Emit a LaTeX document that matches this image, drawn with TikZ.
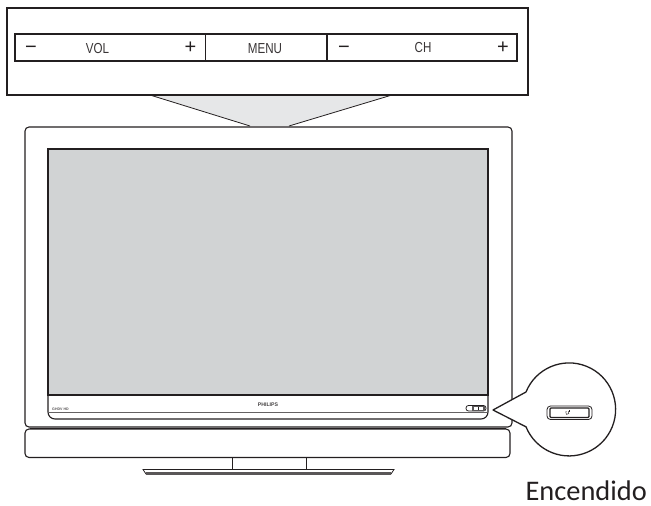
\documentclass[tikz,border=0pt]{standalone}
\usepackage{fontspec}
\setmainfont{Liberation Sans}
\newfontfamily\labelfont{Carlito}
\definecolor{screengray}{HTML}{D1D3D4}
\definecolor{funnelgray}{HTML}{E6E7E8}
\definecolor{inkline}{HTML}{231F20}
\newcommand{\narrowtext}[1]{\scalebox{.8}[1]{#1}}
\tikzset{
  ink/.style={draw=inkline,line width=1.1pt},
  thin ink/.style={draw=inkline,line width=.8pt},
  keytext/.style={inner sep=0pt,text=inkline!90,font=\fontsize{14.5}{15}\selectfont},
  sign/.style={inner sep=0pt,text=inkline,font=\fontsize{20}{22}\selectfont},
  tiny/.style={inner sep=0pt,text=inkline!85,font=\bfseries\fontsize{5.2}{5}\selectfont}
}
\begin{document}
\begin{tikzpicture}[x=1pt,y=-1pt]
\useasboundingbox (0,0) rectangle (651,506);
% funnel
\fill[funnelgray] (150,95) -- (392,95) -- (289,126) -- (250,126) -- cycle;
\draw[thin ink] (150,95) -- (250,126) (392,95) -- (289,126);
% top panel
\draw[ink,fill=white] (7,8) rectangle (528,95);
\draw[ink] (15,34) rectangle (517,61);
\draw[ink] (205.5,34) -- (205.5,61) (327,34) -- (327,61);
\node[sign] (volm) at (31,50) {−};
\node[keytext] (vol) at (97.5,49) {\narrowtext{VOL}};
\node[sign] (volp) at (190.5,48) {+};
\node[keytext] (menu) at (265,49) {\narrowtext{MENU}};
\node[sign] (chm) at (344,49.5) {−};
\node[keytext] (ch) at (423,48) {\narrowtext{CH}};
\node[sign] (chp) at (503,47.5) {+};
% TV body
\draw[ink,rounded corners=4pt] (25,127) rectangle (512,427);
\fill[screengray] (48,149) rectangle (488,395);
\draw[ink] (48,149) -- (488,149) -- (488,395) -- (48,395) -- cycle;
\draw[ink,rounded corners=7pt] (48,395) -- (48,419) -- (488,419) -- (488,395);
\draw[draw=inkline!70,line width=1.4pt] (49,412.5) -- (487,412.5);
\node[tiny] (brand) at (268,404.5) {PHILIPS};
\node[tiny,font=\bfseries\fontsize{3.6}{4}\selectfont,text=inkline!75] (hd) at (60.5,409) {GHDV  HD};
% indicator on the set
\draw[thin ink,rounded corners=2.5pt] (466,405.5) rectangle (486,411);
\fill[inkline!75] (472,406) rectangle (485,410.5);
\fill[white] (474,407) rectangle (483,409.5);
\fill[inkline] (477.5,407) rectangle (479,409.5);
% stand
\draw[ink,rounded corners=4pt] (25,429) rectangle (510,457.5);
\draw[line width=1.5pt,draw=inkline] (30,428.3) -- (506,428.3);
\draw[thin ink] (232,457.5) -- (232,469) (306,457.5) -- (306,469);
\draw[thin ink] (143,469.5) -- (394,469.5) -- (391,474) -- (146,474) -- cycle;
\fill[inkline!75] (146,471.5) rectangle (391,475);
% bubble
\draw[draw=inkline,line width=1.3pt,line join=round,fill=white] (493,410) -- (526,392)
  arc[start angle=202,end angle=518,radius=46.5] -- cycle;
% button in bubble
\draw[thin ink,rounded corners=3.5pt] (547,406) rectangle (592,419.5);
\draw[ink,rounded corners=1pt] (550,408) rectangle (589,417.5);
\draw[inkline,line width=.45pt] (568.2,411.2) arc[start angle=-60,end angle=240,radius=1.8];
\draw[inkline,line width=.45pt] (569.1,410.3) -- (569.1,412.4);
% label
\node[anchor=base east,inner sep=0pt,text=inkline,font=\labelfont\fontsize{28.4}{30}\selectfont] (enc) at (647,500) {Encendido};
\end{tikzpicture}
\end{document}
